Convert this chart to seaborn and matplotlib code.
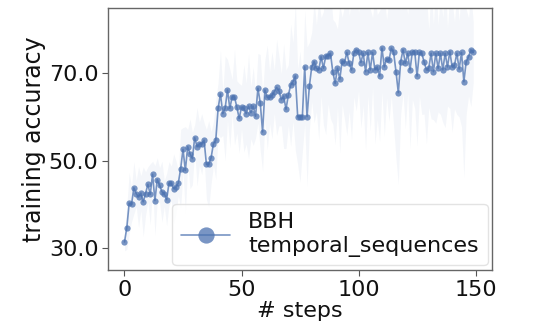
import numpy as np
import pandas as pd
import seaborn as sns
import matplotlib.pyplot as plt
from matplotlib.ticker import FormatStrFormatter

# mean training accuracy per step
accuracy = [
    31.4, 34.7, 40.3, 40.0, 43.8, 42.5, 41.7, 42.6, 40.6, 42.5,
    44.6, 42.3, 46.9, 40.9, 45.7, 44.4, 42.9, 42.5, 41.1, 44.8,
    44.8, 43.6, 44.0, 44.9, 48.2, 52.6, 47.8, 53.2, 51.6, 50.5,
    55.3, 53.2, 53.9, 53.8, 54.7, 49.2, 49.2, 50.7, 53.9, 54.7,
    62.0, 65.3, 60.8, 62.0, 66.2, 62.0, 64.6, 64.6, 62.3, 59.7,
    62.3, 62.0, 60.8, 62.5, 61.0, 62.5, 60.2, 66.6, 63.3, 56.6,
    66.2, 64.5, 64.5, 65.0, 65.8, 66.8, 66.0, 64.0, 64.8, 61.8,
    65.0, 67.3, 68.1, 69.4, 60.1, 60.1, 60.1, 71.5, 60.1, 67.1,
    71.5, 72.7, 71.2, 70.8, 73.8, 71.2, 74.0, 74.0, 74.6, 70.4,
    67.7, 71.2, 68.7, 72.9, 72.5, 74.8, 72.3, 70.8, 74.6, 75.4,
    75.0, 72.5, 74.6, 70.4, 74.8, 70.8, 74.8, 70.8, 71.5, 69.4,
    75.8, 71.5, 73.4, 73.0, 75.8, 74.8, 70.4, 65.6, 72.7, 75.4,
    72.3, 74.6, 70.8, 75.0, 75.0, 69.4, 74.8, 74.6, 72.7, 70.8,
    71.2, 74.6, 70.4, 74.6, 71.2, 74.6, 70.8, 74.6, 71.5, 75.0,
    71.5, 71.9, 74.6, 71.0, 74.8, 68.1, 72.7, 73.8, 75.4, 74.8,
]

# half width of the shaded band (estimated, jagged)
spread = [
    2, 5, 7, 4, 6, 3, 7, 4, 8, 5,
    4, 7, 3, 8, 5, 4, 7, 3, 6, 5,
    4, 8, 6, 3, 9, 5, 10, 4, 8, 6,
    3, 9, 5, 7, 4, 8, 10, 6, 5, 9,
    6, 10, 5, 12, 7, 9, 4, 11, 6, 8,
    5, 10, 7, 12, 6, 9, 5, 8, 11, 9,
    7, 12, 6, 10, 5, 11, 8, 6, 12, 9,
    7, 14, 9, 17, 11, 15, 8, 13, 16, 10,
    8, 14, 10, 16, 9, 13, 18, 11, 15, 12,
    14, 9, 17, 10, 13, 19, 11, 16, 10, 14,
    9, 15, 12, 18, 10, 14, 8, 17, 12, 15,
    10, 16, 9, 14, 11, 17, 20, 21, 12, 10,
    15, 9, 18, 11, 13, 16, 10, 14, 12, 17,
    9, 15, 11, 16, 10, 14, 12, 17, 9, 13,
    15, 10, 14, 11, 17, 22, 12, 9, 13, 7,
]

steps = np.arange(len(accuracy))
df = pd.DataFrame({"step": steps, "acc": accuracy, "spread": spread})

sns.set_style("white")
plt.rcParams["font.family"] = ["DejaVu Sans"]

color = "#4c72b0"
fig = plt.figure(figsize=(5.46, 3.3), dpi=100)
ax = fig.add_axes([0.198, 0.182, 0.703, 0.794])

ax.fill_between(df["step"], df["acc"] - df["spread"], df["acc"] + df["spread"],
                color=color, alpha=0.06, linewidth=0)
sns.lineplot(data=df, x="step", y="acc", ax=ax, color=color, alpha=0.75,
             marker="o", markersize=4.5, markeredgewidth=0, linewidth=1.2,
             label="BBH\ntemporal_sequences")

ax.set_xlim(-7, 157)
ax.set_ylim(25, 85)
ax.set_xticks([0, 50, 100, 150])
ax.set_yticks([30, 50, 70])
ax.yaxis.set_major_formatter(FormatStrFormatter("%.1f"))
ax.tick_params(axis="both", labelsize=16, length=4, color="#555555", pad=3,
               labelcolor="#111111")
ax.tick_params(axis="both", bottom=True, left=True)
ax.set_xlabel("# steps", fontsize=16, labelpad=1, color="#111111")
ax.set_ylabel("training accuracy", fontsize=17, labelpad=2, color="#111111")
for s in ax.spines.values():
    s.set_color("#666666")
    s.set_linewidth(1.0)

leg = ax.legend(loc="lower right", fontsize=16, markerscale=2.6,
                handlelength=2.2, borderaxespad=0.2, frameon=True,
                labelcolor="#111111")
leg.get_frame().set_edgecolor("#dddddd")

fig.savefig("out.png", dpi=100)
